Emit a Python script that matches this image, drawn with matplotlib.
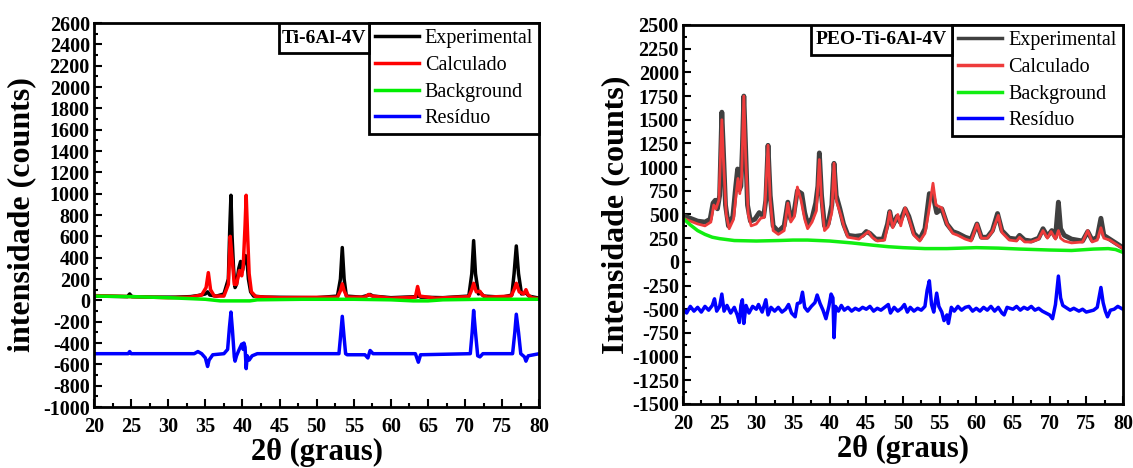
import numpy as np
import matplotlib
matplotlib.use("Agg")
import matplotlib.pyplot as plt
from matplotlib.patches import Rectangle
from matplotlib.ticker import MultipleLocator

plt.rcParams['font.family'] = ['Liberation Serif', 'DejaVu Serif']
plt.rcParams['axes.unicode_minus'] = False

# ---- Ti-6Al-4V (left panel), (2theta, counts) pairs
ti_exp = [(20, 40), (22, 38), (24.5, 35), (24.8, 60), (25.1, 35), (28, 30), (31, 30), (33, 35),
          (34, 45), (35, 60), (35.3, 80), (35.6, 50), (36.5, 40), (37.5, 60), (38.1, 200),
          (38.3, 700), (38.45, 985), (38.6, 600), (38.8, 300), (39.0, 120), (39.2, 150),
          (39.5, 300), (39.75, 365), (40.0, 280), (40.2, 350), (40.4, 420), (40.6, 380),
          (40.8, 200), (41.1, 80), (41.5, 40), (43, 30), (50, 25), (52.8, 40), (53.2, 200),
          (53.45, 495), (53.7, 200), (54.0, 40), (56, 30), (56.8, 45), (57.2, 55), (57.6, 40),
          (60, 25), (63.5, 35), (63.7, 50), (64, 30), (67, 25), (70.5, 40), (70.9, 250),
          (71.15, 560), (71.4, 250), (71.8, 60), (72.1, 70), (72.5, 40), (75, 30), (76.3, 50),
          (76.6, 250), (76.9, 510), (77.2, 250), (77.6, 60), (78.2, 70), (78.6, 40), (80, 20)]
ti_calc = [(20, 45), (25, 35), (30, 25), (33, 30), (34.5, 50), (35.1, 120), (35.4, 260),
           (35.7, 100), (36.2, 40), (37.5, 40), (38.1, 150), (38.35, 600), (38.6, 400),
           (38.9, 150), (39.2, 150), (39.6, 280), (39.9, 230), (40.1, 320), (40.35, 700),
           (40.5, 985), (40.7, 600), (40.9, 250), (41.2, 80), (41.8, 35), (45, 25), (52.8, 30),
           (53.2, 90), (53.45, 155), (53.7, 90), (54.1, 30), (56.5, 30), (57, 55), (57.5, 40),
           (60, 20), (63.3, 30), (63.6, 130), (63.9, 40), (66, 20), (70.5, 35), (70.9, 100),
           (71.15, 160), (71.5, 80), (72, 85), (72.3, 50), (73, 30), (76.2, 40), (76.6, 100),
           (76.9, 160), (77.3, 80), (77.9, 60), (78.2, 100), (78.5, 50), (79, 25), (80, 15)]
ti_bg = [(20, 40), (25, 35), (30, 25), (35, 10), (37, -5), (41, -5), (42, 5), (48, 10), (55, 10),
         (60, 5), (63, -5), (65, -5), (67, 5), (72, 10), (80, 10)]
ti_res = [(20, -500), (24.6, -500), (24.8, -480), (25, -500), (33.5, -500), (34, -480),
          (34.5, -500), (35.0, -540), (35.3, -620), (35.5, -560), (36, -510), (37.5, -500),
          (38.0, -460), (38.25, -250), (38.45, -110), (38.65, -280), (38.9, -530), (39.0, -570),
          (39.2, -520), (39.5, -470), (39.7, -440), (39.9, -410), (40.1, -460), (40.2, -400),
          (40.35, -440), (40.5, -640), (40.65, -520), (40.9, -560), (41.3, -520), (42, -500),
          (53, -500), (53.2, -350), (53.45, -150), (53.7, -350), (53.9, -500), (54.1, -510),
          (56.5, -510), (56.9, -540), (57.2, -470), (57.6, -500), (63.3, -500), (63.7, -580),
          (64, -510), (70.7, -500), (70.95, -300), (71.15, -95), (71.4, -300), (71.7, -520),
          (72, -530), (72.4, -500), (76.4, -500), (76.7, -300), (76.9, -130), (77.2, -300),
          (77.5, -500), (78.0, -530), (78.2, -570), (78.5, -520), (80, -500)]

# ---- PEO-Ti-6Al-4V (right panel)
peo_exp = [(20, 490), (21, 460), (22, 430), (23, 420), (23.7, 450), (24.1, 620), (24.4, 650),
           (24.7, 560), (25.0, 700), (25.3, 1580), (25.5, 1200), (25.8, 600), (26.2, 380),
           (26.8, 480), (27.2, 800), (27.45, 980), (27.7, 760), (27.9, 800), (28.1, 1200),
           (28.3, 1750), (28.5, 1300), (28.8, 600), (29.2, 430), (29.8, 450), (30.4, 520),
           (31.0, 480), (31.3, 650), (31.6, 1230), (31.9, 700), (32.3, 380), (33.0, 320),
           (33.8, 380), (34.3, 630), (34.7, 450), (35.1, 500), (35.6, 750), (36.2, 720),
           (36.6, 520), (37.0, 400), (37.6, 460), (38.1, 620), (38.4, 800), (38.6, 1150),
           (38.9, 700), (39.3, 380), (39.8, 400), (40.3, 600), (40.6, 1040), (40.9, 700),
           (41.4, 560), (41.9, 400), (42.5, 280), (43.5, 270), (44.5, 280), (45.0, 320),
           (45.5, 300), (46.3, 240), (47.3, 240), (47.9, 400), (48.2, 530), (48.6, 380),
           (49.2, 480), (49.6, 420), (50.3, 560), (50.8, 480), (51.5, 300), (52.3, 240),
           (53.0, 350), (53.6, 720), (54.1, 700), (54.6, 520), (55.3, 560), (56.0, 400),
           (56.8, 320), (57.5, 300), (58.5, 260), (59.3, 240), (60.1, 400), (60.7, 260),
           (61.5, 260), (62.2, 330), (62.9, 510), (63.5, 330), (64.5, 250), (65.5, 240),
           (65.9, 280), (66.6, 230), (67.5, 220), (68.5, 250), (69.1, 350), (69.7, 270),
           (70.3, 330), (70.8, 260), (71.2, 630), (71.5, 350), (72, 280), (73, 240),
           (74.5, 220), (75.2, 320), (75.8, 230), (76.5, 260), (77.0, 460), (77.4, 280),
           (78.2, 240), (79, 200), (80, 150)]
peo_calc = [(20, 460), (21, 430), (22, 400), (23, 380), (23.8, 420), (24.2, 600), (24.5, 560),
            (24.9, 650), (25.3, 1500), (25.5, 1100), (25.9, 500), (26.3, 350), (26.9, 450),
            (27.3, 750), (27.5, 880), (27.75, 720), (28.0, 900), (28.3, 1750), (28.55, 1100),
            (28.9, 500), (29.3, 380), (30, 400), (30.6, 460), (31.1, 470), (31.6, 1230),
            (31.9, 650), (32.3, 330), (33.0, 290), (33.8, 330), (34.3, 620), (34.7, 420),
            (35.2, 480), (35.6, 790), (36.1, 650), (36.6, 450), (37.0, 350), (37.6, 420),
            (38.2, 540), (38.6, 1080), (38.9, 650), (39.3, 330), (39.8, 370), (40.3, 520),
            (40.6, 1040), (40.9, 650), (41.5, 500), (42, 360), (42.5, 260), (44, 240),
            (45.3, 320), (45.8, 260), (46.5, 220), (47.5, 230), (47.9, 380), (48.2, 530),
            (48.6, 360), (49.3, 500), (49.7, 380), (50.3, 570), (50.8, 460), (51.5, 280),
            (52.3, 220), (53, 300), (53.5, 520), (54.1, 830), (54.5, 600), (55.3, 570),
            (56, 400), (56.8, 300), (57.5, 280), (58.5, 240), (59.3, 220), (60.1, 400),
            (60.7, 250), (61.5, 250), (62.2, 320), (63.0, 490), (63.5, 310), (64.5, 230),
            (65.5, 220), (65.9, 260), (66.6, 210), (67.5, 210), (68.5, 240), (69.1, 330),
            (69.7, 250), (70.2, 320), (70.8, 240), (71.2, 330), (71.5, 250), (72, 220),
            (73, 200), (74.5, 210), (75.2, 330), (75.8, 210), (76.5, 230), (77.0, 360),
            (77.4, 250), (78.2, 230), (79, 190), (80, 140)]
peo_bg = [(20, 460), (21, 390), (22, 330), (23, 290), (24, 260), (25, 245), (27, 225), (30, 220),
          (33, 225), (35, 230), (37, 230), (40, 220), (43, 200), (46, 175), (48, 160), (50, 150),
          (53, 140), (56, 140), (60, 150), (63, 145), (66, 135), (70, 125), (73, 120), (76, 135),
          (78, 140), (79, 130), (80, 100)]
peo_res = [(20, -500), (20.5, -540), (21, -470), (21.5, -520), (22, -480), (22.5, -530),
           (23, -470), (23.5, -510), (24, -460), (24.3, -390), (24.6, -520), (25, -470),
           (25.3, -340), (25.6, -520), (26, -460), (26.5, -540), (27, -480), (27.4, -560),
           (27.7, -640), (27.9, -460), (28.1, -400), (28.3, -650), (28.6, -460), (29, -540),
           (29.5, -470), (30, -500), (30.3, -450), (30.8, -530), (31.3, -400), (31.6, -560),
           (32, -480), (32.5, -520), (33, -480), (33.5, -530), (34, -500), (34.4, -450),
           (34.8, -540), (35.3, -580), (35.6, -440), (36.0, -430), (36.3, -320), (36.6, -480),
           (37, -520), (37.5, -470), (38, -430), (38.3, -350), (38.7, -440), (39.1, -510),
           (39.5, -600), (39.9, -470), (40.2, -340), (40.45, -380), (40.6, -800), (40.8, -470),
           (41.2, -520), (41.6, -460), (42, -510), (42.5, -480), (43, -520), (43.5, -490),
           (44, -510), (44.5, -480), (45, -500), (45.5, -470), (46, -520), (46.5, -490),
           (47, -510), (47.5, -480), (48, -450), (48.3, -540), (48.8, -480), (49.3, -520),
           (49.8, -490), (50.2, -450), (50.6, -530), (51, -480), (51.5, -520), (52, -490),
           (52.5, -510), (53, -470), (53.3, -300), (53.6, -200), (53.9, -450), (54.2, -530),
           (54.6, -330), (54.9, -470), (55.3, -530), (55.6, -620), (56.0, -560), (56.2, -650),
           (56.6, -480), (57, -520), (57.5, -470), (58, -510), (58.5, -480), (59, -470),
           (59.5, -520), (60, -490), (60.5, -520), (61, -480), (61.5, -510), (62, -470),
           (62.5, -520), (63, -480), (63.5, -540), (63.8, -560), (64.2, -480), (65, -500),
           (65.5, -470), (66, -510), (66.5, -480), (67, -500), (67.5, -470), (68, -510),
           (68.5, -490), (69, -520), (69.5, -540), (70, -560), (70.4, -600), (70.8, -450),
           (71.2, -150), (71.5, -380), (71.8, -460), (72.2, -480), (72.8, -510), (73.3, -490),
           (74, -520), (74.5, -500), (75, -530), (75.5, -520), (76, -510), (76.5, -480),
           (77.0, -270), (77.3, -430), (77.6, -520), (77.9, -580), (78.3, -510), (78.8, -500),
           (79.3, -470), (80, -500)]

labels = ['Experimental', 'Calculado', 'Background', 'Resíduo']


def style_axes(ax, ymin, ymax, ymajor):
    ax.set_xlim(20, 80)
    ax.set_ylim(ymin, ymax)
    ax.xaxis.set_major_locator(MultipleLocator(5))
    ax.xaxis.set_minor_locator(MultipleLocator(2.5))
    ax.yaxis.set_major_locator(MultipleLocator(ymajor))
    ax.yaxis.set_minor_locator(MultipleLocator(ymajor / 2))
    ax.tick_params(which='both', direction='in', width=1.5, labelsize=14.5)
    ax.tick_params(axis='x', pad=7)
    ax.tick_params(axis='y', pad=3)
    ax.tick_params(which='major', length=6)
    ax.tick_params(which='minor', length=3)
    for lab in ax.get_xticklabels() + ax.get_yticklabels():
        lab.set_fontweight('bold')
    for sp in ax.spines.values():
        sp.set_linewidth(2)
    ax.set_xlabel('2θ (graus)', fontsize=22, fontweight='bold', labelpad=1)


def panel(ax, series, colors, widths, ylabel):
    handles = []
    for pts, c, lw in zip(series, colors, widths):
        arr = np.array(pts)
        h, = ax.plot(arr[:, 0], arr[:, 1], color=c, lw=lw)
        handles.append(h)
    leg = ax.legend(handles, labels, loc='upper right', borderaxespad=0, fancybox=False,
                    edgecolor='black', fontsize=14.5, handlelength=2.2, handletextpad=0.3,
                    labelspacing=0.38, borderpad=0.3, framealpha=1)
    leg.get_frame().set_linewidth(2)
    for line in leg.get_lines():
        line.set_linewidth(2.5)
    ax.set_ylabel(ylabel, fontsize=23, fontweight='bold')
    return leg


fig = plt.figure(figsize=(11.33, 4.68), dpi=100)
ax1 = fig.add_axes([0.083, 0.1303, 0.393, 0.8205])
ax2 = fig.add_axes([0.6028, 0.1368, 0.3883, 0.8098])

style_axes(ax1, -1000, 2600, 200)
style_axes(ax2, -1500, 2500, 250)

leg1 = panel(ax1, [ti_exp, ti_calc, ti_bg, ti_res],
             ['#000000', '#ff0000', '#00ee00', '#0000ff'], [2.5, 2.5, 2.5, 2.5],
             'intensidade (counts)')
leg2 = panel(ax2, [peo_exp, peo_calc, peo_bg, peo_res],
             ['#404040', '#ee3b3b', '#11ee11', '#0000ff'], [3.5, 2.0, 2.5, 2.5],
             'Intensidade (counts)')

# sample name box sitting to the left of each legend
fig.canvas.draw()
for ax, leg, tag, tag_w in [(ax1, leg1, 'Ti-6Al-4V', 90), (ax2, leg2, 'PEO-Ti-6Al-4V', 141)]:
    bb = leg.get_window_extent().transformed(ax.transAxes.inverted())
    ax_px = ax.get_window_extent()
    w = tag_w / ax_px.width
    h = 30 / ax_px.height
    ax.add_patch(Rectangle((bb.x0 - w, 1 - h), w, h, transform=ax.transAxes,
                           facecolor='white', edgecolor='black', lw=2, zorder=10))
    ax.text(bb.x0 - w / 2, 1 - h / 2, tag, transform=ax.transAxes, ha='center', va='center',
            fontsize=14, fontweight='bold', zorder=11)

ax1.yaxis.set_label_coords(-0.13, 0.5)
ax2.yaxis.set_label_coords(-0.12, 0.5)

fig.savefig('out.png', dpi=100)
